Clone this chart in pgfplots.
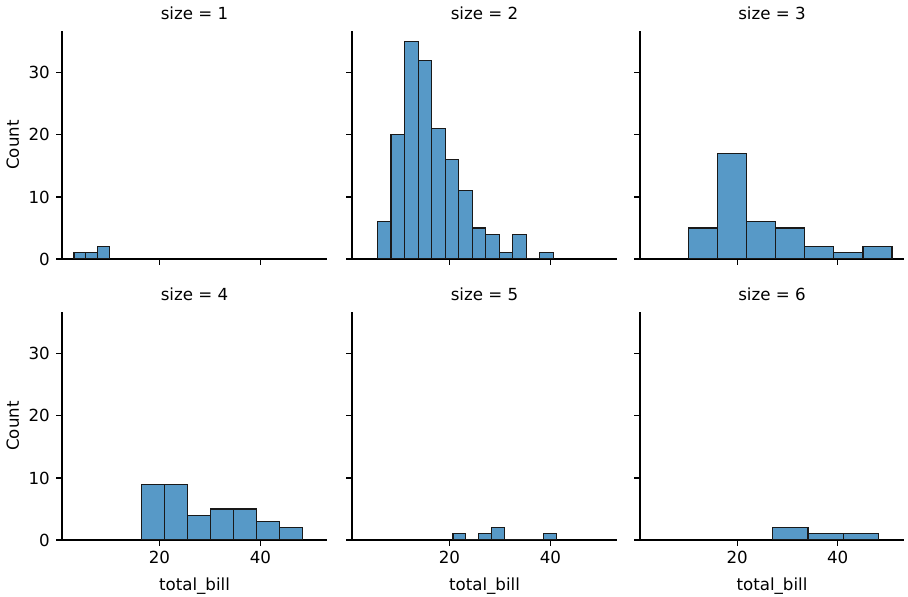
\documentclass[border=0pt]{standalone}
\usepackage{fontspec}
\setmainfont{DejaVu Sans}
\usepackage{pgfplots}
\pgfplotsset{compat=1.18}
\definecolor{barblue}{RGB}{87,153,199}
\pgfplotsset{
  every axis title shift=0pt,
  base/.style={
    anchor=south west,
    width=190.8pt, height=164.16pt, scale only axis,
    xmin=0.683, xmax=53.197, ymin=0, ymax=36.75,
    axis x line*=bottom, axis y line*=left,
    axis line style={black, line width=0.8pt},
    xtick={20,40}, ytick={0,10,20,30},
    tick align=outside, major tick length=4.3pt,
    tick style={black, line width=0.8pt},
    font=\fontsize{12pt}{14pt}\selectfont,
    /pgf/number format/assume math mode=true,
    ticklabel style={font=\fontsize{12pt}{14pt}\selectfont},
    yticklabel style={xshift=-1pt},
    title style={at={(0.5,1)}, anchor=base, yshift=8pt, font=\fontsize{12pt}{14pt}\selectfont},
    xlabel style={yshift=-3.5pt, font=\fontsize{12pt}{14pt}\selectfont},
    ylabel style={font=\fontsize{12pt}{14pt}\selectfont},
  },
  hist/.style={ybar interval, fill=barblue, draw=black!90, line width=0.85pt},
}
\begin{document}
\begin{tikzpicture}
\useasboundingbox (0,0) rectangle (653.76pt,429.84pt);
% size = 1
\begin{axis}[base, at={(44.64pt,243.36pt)}, title={size = 1}, ylabel={Count}, xticklabels={,,}]
\addplot[hist] coordinates {(3.07,1) (5.4033,1) (7.7367,2) (10.07,2)};
\end{axis}
% size = 2
\begin{axis}[base, at={(253.44pt,243.36pt)}, title={size = 2}, xticklabels={,,}, yticklabels={,,,,}]
\addplot[hist] coordinates {(5.75,6) (8.4269,20) (11.1038,35) (13.7808,32) (16.4577,21) (19.1346,16) (21.8115,11) (24.4885,5) (27.1654,4) (29.8423,1) (32.5192,4) (35.1962,0) (37.8731,1) (40.55,1)};
\end{axis}
% size = 3
\begin{axis}[base, at={(460.8pt,243.36pt)}, width=190.08pt, title={size = 3}, xticklabels={,,}, yticklabels={,,,,}]
\addplot[hist] coordinates {(10.34,5) (16.1214,17) (21.9029,6) (27.6843,5) (33.4657,2) (39.2471,1) (45.0286,2) (50.81,2)};
\end{axis}
% size = 4
\begin{axis}[base, at={(44.64pt,41.04pt)}, title={size = 4}, ylabel={Count}, xlabel={total\_bill}]
\addplot[hist] coordinates {(16.49,9) (21.0386,9) (25.5871,4) (30.1357,5) (34.6843,5) (39.2329,3) (43.7814,2) (48.33,2)};
\end{axis}
% size = 5
\begin{axis}[base, at={(253.44pt,41.04pt)}, title={size = 5}, xlabel={total\_bill}, yticklabels={,,,,}]
\addplot[hist] coordinates {(20.69,1) (23.2525,0) (25.815,1) (28.3775,2) (30.94,0) (33.5025,0) (36.065,0) (38.6275,1) (41.19,1)};
\end{axis}
% size = 6
\begin{axis}[base, at={(460.8pt,41.04pt)}, width=190.08pt, title={size = 6}, xlabel={total\_bill}, yticklabels={,,,,}]
\addplot[hist] coordinates {(27.05,2) (34.09,1) (41.13,1) (48.17,1)};
\end{axis}
\end{tikzpicture}
\end{document}
